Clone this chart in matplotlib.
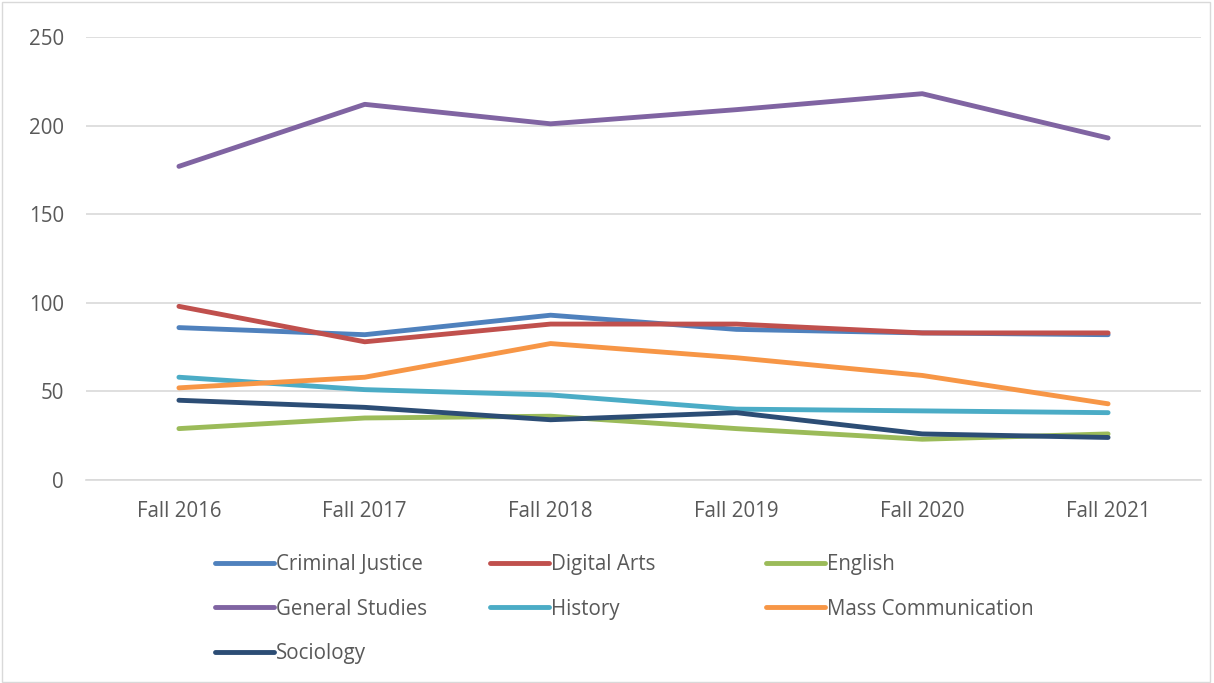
import matplotlib
matplotlib.use("Agg")
import matplotlib.pyplot as plt
from matplotlib.patches import Rectangle

categories = ["Fall 2016", "Fall 2017", "Fall 2018", "Fall 2019", "Fall 2020", "Fall 2021"]
criminal_justice = [86, 82, 93, 85, 83, 82]
digital_arts = [98, 78, 88, 88, 83, 83]
english = [29, 35, 36, 29, 23, 26]
general_studies = [177, 212, 201, 209, 218, 193]
history = [58, 51, 48, 40, 39, 38]
mass_communication = [52, 58, 77, 69, 59, 43]
sociology = [45, 41, 34, 38, 26, 24]

series = [
    ("Criminal Justice", criminal_justice, "#4F81BD"),
    ("Digital Arts", digital_arts, "#C0504D"),
    ("English", english, "#9BBB59"),
    ("General Studies", general_studies, "#8064A2"),
    ("History", history, "#4BACC6"),
    ("Mass Communication", mass_communication, "#F79646"),
    ("Sociology", sociology, "#2C4D75"),
]

plt.rcParams['font.family'] = ['Open Sans', 'DejaVu Sans']
text_color = "#595959"
fs = 14.8

fig = plt.figure(figsize=(12.14, 6.83), dpi=100)
ax = fig.add_axes([86/1214, (683-480)/683, (1201-86)/1214, 443/683])

x = list(range(len(categories)))
lines = {}
for name, vals, col in series:
    l, = ax.plot(x, vals, color=col, lw=3.5, solid_capstyle='round', solid_joinstyle='round', label=name)
    lines[name] = l

ax.set_xlim(-0.5, len(categories) - 0.5)
ax.set_ylim(0, 250)
ax.set_yticks([0, 50, 100, 150, 200, 250])
ax.set_xticks(x)
ax.set_xticklabels(categories)
ax.tick_params(axis='both', length=0, colors=text_color, labelsize=fs)
ax.tick_params(axis='y', pad=16)
ax.tick_params(axis='x', pad=15)
for s in ["top", "right", "left"]:
    ax.spines[s].set_visible(False)
ax.spines["bottom"].set_color("#d9d9d9")
ax.spines["bottom"].set_linewidth(1.2)
ax.grid(axis='y', color="#d9d9d9", linewidth=1.2)
ax.set_axisbelow(True)

# legend in three columns of equal width
names = [s[0] for s in series]
cols = [[names[0], names[3], names[6]], [names[1], names[4]], [names[2], names[5]]]
col_x = [215, 490, 766]
for cx, group in zip(col_x, cols):
    fig.legend([lines[n] for n in group], group, loc='upper left',
               bbox_to_anchor=(cx/1214, (683-554)/683), frameon=False,
               borderpad=0, borderaxespad=0, handlelength=2.85, handletextpad=0.1,
               labelspacing=1.15, fontsize=fs, labelcolor=text_color)

fig.add_artist(Rectangle((0.002, 0.002), 0.995, 0.995, transform=fig.transFigure,
                         fill=False, edgecolor="#d9d9d9", lw=1))

fig.savefig("out.png", dpi=100)
